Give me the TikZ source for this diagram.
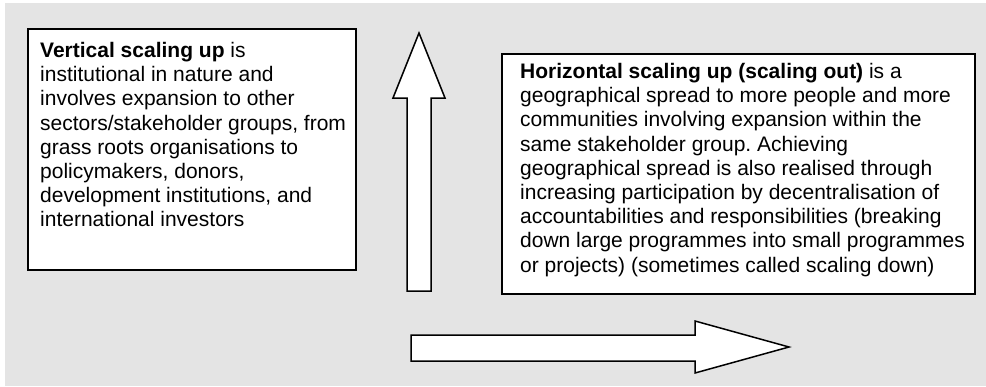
\documentclass[tikz,border=0pt]{standalone}
\usepackage{fontspec}
\setmainfont{Liberation Sans}
\frenchspacing
\definecolor{bggray}{RGB}{228,228,228}
\tikzset{
  px/.style={x=1pt,y=-1pt},
  textbox/.style={draw=black,line width=2pt,fill=white,inner sep=0pt,anchor=north west},
  bodytext/.style={anchor=north west,inner sep=0pt,align=left,font=\fontsize{21}{24.2}\selectfont\frenchspacing,text=black},
  blockarrow/.style={draw=black,line width=1.5pt,fill=white,line join=miter}
}
\begin{document}
\begin{tikzpicture}[px]
\useasboundingbox (0,0) rectangle (986,386);
\fill[bggray] (5,3) rectangle (986,386);
% left box
\node[textbox,minimum width=328pt,minimum height=241pt] (vbox) at (27,28) {};
\node[bodytext] (vtext) at (40,40.4) {\strut\textbf{Vertical scaling up} is\\
institutional in nature and\\
involves expansion to other\\
sectors/stakeholder groups, from\\
grass roots organisations to\\
policymakers, donors,\\
development institutions, and\\
international investors};
% right box
\node[textbox,minimum width=473pt,minimum height=240pt] (hbox) at (501,53) {};
\node[bodytext] (htext) at (520,61.4) {\strut\textbf{Horizontal scaling up (scaling out)} is a\\
geographical spread to more people and more\\
communities involving expansion within the\\
same stakeholder group. Achieving\\
geographical spread is also realised through\\
increasing participation by decentralisation of\\
accountabilities and responsibilities (breaking\\
down large programmes into small programmes\\
or projects) (sometimes called scaling down)};
% up arrow
\draw[blockarrow] (407,291) -- (407,98) -- (393,98) -- (419,33) -- (445,98) -- (431,98) -- (431,291) -- cycle;
% right arrow
\draw[blockarrow] (411,335) -- (695,335) -- (695,321) -- (789,347) -- (695,373) -- (695,361) -- (411,361) -- cycle;
\end{tikzpicture}
\end{document}
